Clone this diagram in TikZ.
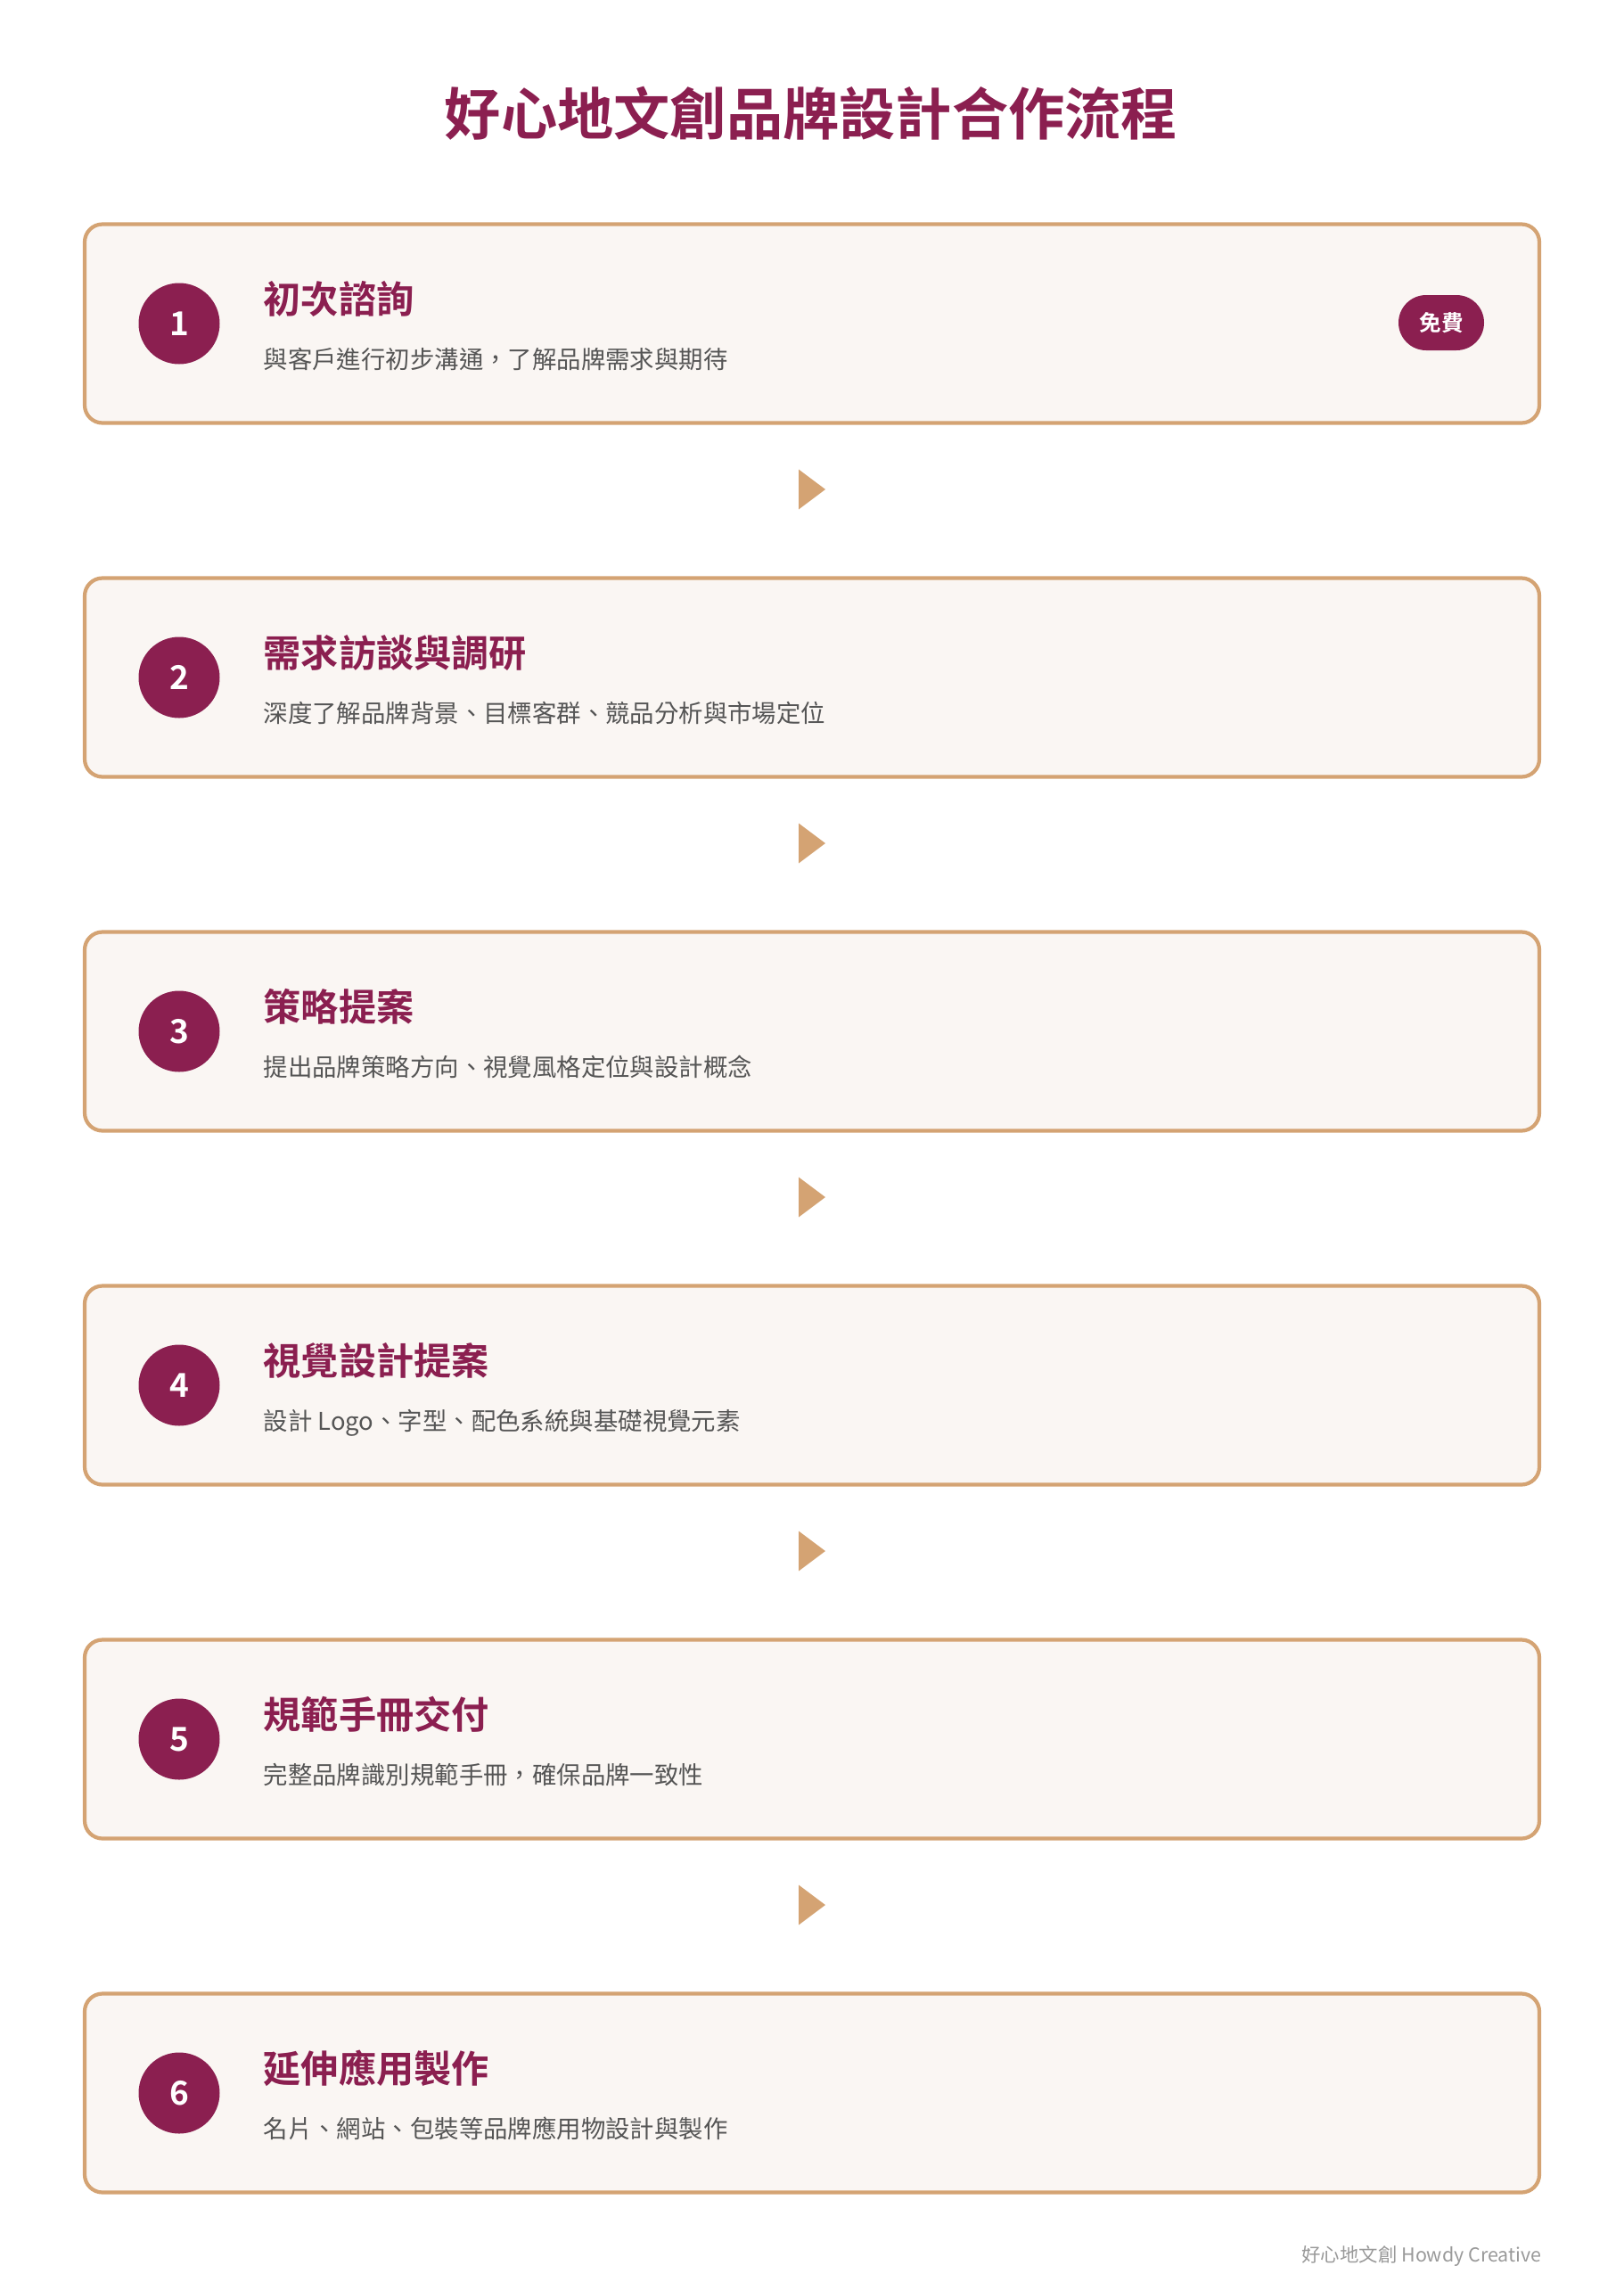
\documentclass[tikz,border=0pt]{standalone}
\usepackage{fontspec}
\setmainfont{Noto Sans CJK TC}[BoldFont={Noto Sans CJK TC Bold}]
\usetikzlibrary{shapes.geometric}
\definecolor{wine}{HTML}{8B1F50}
\definecolor{tan}{HTML}{D4A373}
\definecolor{paper}{HTML}{FAF6F3}
\definecolor{ink}{HTML}{555555}
\definecolor{foot}{HTML}{999999}
\begin{document}
\begin{tikzpicture}[%
% common options for the step cards:
card/.style = {draw=tan, line width=1.2pt, fill=paper, rounded corners=0.2cm,
            minimum width=16.32cm, minimum height=2.23cm, inner sep=0},
% common options for the number circles:
ball/.style = {circle, fill=wine, text=white, minimum size=0.91cm, inner sep=0,
            font=\bfseries\fontsize{10.5}{11}\selectfont},
head/.style = {anchor=base west, inner sep=0, text=wine,
            font=\bfseries\fontsize{12}{13}\selectfont},
desc/.style = {anchor=base west, inner sep=0, text=ink,
            font=\fontsize{7.8}{8.5}\selectfont},
badge/.style = {rectangle, rounded corners=0.31cm, fill=wine, text=white,
            minimum width=0.96cm, minimum height=0.62cm, inner sep=0,
            font=\bfseries\fontsize{7}{8}\selectfont},
tri/.style = {isosceles triangle, isosceles triangle stretches, shape border rotate=0,
            fill=tan, minimum width=0.45cm, minimum height=0.30cm, inner sep=0,
            outer sep=0, anchor=west}]
\useasboundingbox (0,0) rectangle (18.22,-25.6);
% title
\node[anchor=base, inner sep=0, text=wine, font=\bfseries\fontsize{18}{20}\selectfont] (title) at (9.10,-1.51) {好心地文創品牌設計合作流程};
% cards
\node[card] (C1) at (9.11,-3.63) {};
\node[card] (C2) at (9.11,-7.60) {};
\node[card] (C3) at (9.11,-11.57) {};
\node[card] (C4) at (9.11,-15.54) {};
\node[card] (C5) at (9.11,-19.51) {};
\node[card] (C6) at (9.11,-23.48) {};
% numbers
\node[ball] (N1) at (2.01,-3.63) {1};
\node[ball] (N2) at (2.01,-7.60) {2};
\node[ball] (N3) at (2.01,-11.57) {3};
\node[ball] (N4) at (2.01,-15.54) {4};
\node[ball] (N5) at (2.01,-19.51) {5};
\node[ball] (N6) at (2.01,-23.48) {6};
% headings
\node[head] (T1) at (2.95,-3.51) {初次諮詢};
\node[head] (T2) at (2.95,-7.48) {需求訪談與調研};
\node[head] (T3) at (2.95,-11.45) {策略提案};
\node[head] (T4) at (2.95,-15.42) {視覺設計提案};
\node[head] (T5) at (2.95,-19.39) {規範手冊交付};
\node[head] (T6) at (2.95,-23.36) {延伸應用製作};
% descriptions
\node[desc] (D1) at (2.95,-4.13) {與客戶進行初步溝通，了解品牌需求與期待};
\node[desc] (D2) at (2.95,-8.10) {深度了解品牌背景、目標客群、競品分析與市場定位};
\node[desc] (D3) at (2.95,-12.07) {提出品牌策略方向、視覺風格定位與設計概念};
\node[desc] (D4) at (2.95,-16.04) {設計 Logo、字型、配色系統與基礎視覺元素};
\node[desc] (D5) at (2.95,-20.01) {完整品牌識別規範手冊，確保品牌一致性};
\node[desc] (D6) at (2.95,-23.98) {名片、網站、包裝等品牌應用物設計與製作};
% free badge
\node[badge] (F1) at (16.17,-3.62) {免費};
% arrows between cards
\node[tri] (R1) at (8.96,-5.49) {};
\node[tri] (R2) at (8.96,-9.46) {};
\node[tri] (R3) at (8.96,-13.43) {};
\node[tri] (R4) at (8.96,-17.40) {};
\node[tri] (R5) at (8.96,-21.37) {};
% footer
\node[anchor=base east, inner sep=0, text=foot, font=\fontsize{6.1}{7}\selectfont] (foot) at (17.30,-25.37) {好心地文創 Howdy Creative};
\end{tikzpicture}
\end{document}
